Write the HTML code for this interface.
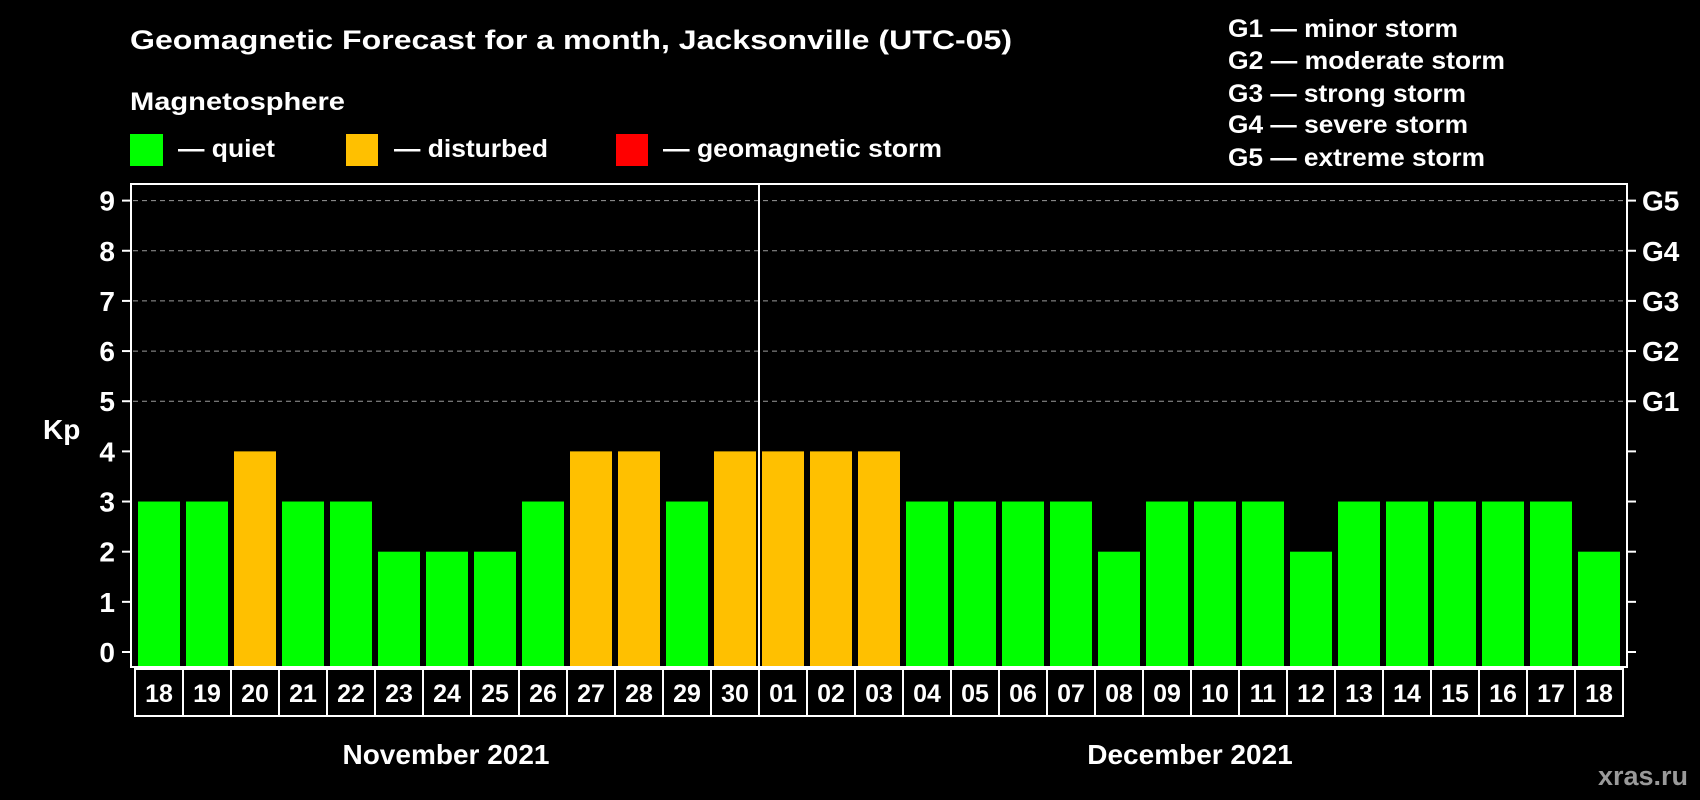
<!DOCTYPE html>
<html><head><meta charset="utf-8"><style>
html,body{margin:0;padding:0;background:#000;width:1700px;height:800px;overflow:hidden}
svg{display:block;font-family:"Liberation Sans",Arial,sans-serif;font-weight:bold}
</style></head><body>
<svg id="chart" width="1700" height="800" viewBox="0 0 1700 800" xmlns="http://www.w3.org/2000/svg">
<rect width="1700" height="800" fill="#000"/>
<text x="130" y="49" fill="#fff" font-size="27" textLength="882" lengthAdjust="spacingAndGlyphs">Geomagnetic Forecast for a month, Jacksonville (UTC-05)</text>
<text x="130" y="110" fill="#fff" font-size="25" textLength="215" lengthAdjust="spacingAndGlyphs">Magnetosphere</text>
<g><rect x="130" y="134" width="33" height="32" fill="#00ff00"/><text x="178" y="157" fill="#fff" font-size="25" textLength="97" lengthAdjust="spacingAndGlyphs">— quiet</text></g>
<g><rect x="346" y="134" width="32" height="32" fill="#ffc000"/><text x="394" y="157" fill="#fff" font-size="25" textLength="154" lengthAdjust="spacingAndGlyphs">— disturbed</text></g>
<g><rect x="616" y="134" width="32" height="32" fill="#ff0000"/><text x="663" y="157" fill="#fff" font-size="25" textLength="279" lengthAdjust="spacingAndGlyphs">— geomagnetic storm</text></g>
<g fill="#fff" font-size="25" lengthAdjust="spacingAndGlyphs">
<text x="1228" y="37" textLength="230" lengthAdjust="spacingAndGlyphs">G1 — minor storm</text>
<text x="1228" y="69" textLength="277" lengthAdjust="spacingAndGlyphs">G2 — moderate storm</text>
<text x="1228" y="102" textLength="238" lengthAdjust="spacingAndGlyphs">G3 — strong storm</text>
<text x="1228" y="133" textLength="240" lengthAdjust="spacingAndGlyphs">G4 — severe storm</text>
<text x="1228" y="166" textLength="257" lengthAdjust="spacingAndGlyphs">G5 — extreme storm</text>
</g>
<g id="grid"></g>
<g id="bars"></g>
<rect x="131" y="184" width="1496" height="483" fill="none" stroke="#fff" stroke-width="2"/>
<line x1="759" y1="184" x2="759" y2="667" stroke="#fff" stroke-width="2"/>
<g id="axes"></g>
<text x="43" y="439" fill="#fff" font-size="28">Kp</text>
<text x="446" y="764" fill="#fff" font-size="28" text-anchor="middle">November 2021</text>
<text x="1190" y="764" fill="#fff" font-size="28" text-anchor="middle">December 2021</text>
<text x="1688" y="785" fill="#9a9a9a" font-size="27" text-anchor="end">xras.ru</text>
</svg>
<script>
const days = ["18","19","20","21","22","23","24","25","26","27","28","29","30","01","02","03","04","05","06","07","08","09","10","11","12","13","14","15","16","17","18"];
const kpValues = [3,3,4,3,3,2,2,2,3,4,4,3,4,4,4,4,3,3,3,3,2,3,3,3,2,3,3,3,3,3,2];
const yTicks = [0,1,2,3,4,5,6,7,8,9];
const gLabels = ["","","","","","G1","G2","G3","G4","G5"];

const NS = "http://www.w3.org/2000/svg";
const x0 = 138, pitch = 48, barW = 42;
const yBase = 652, unit = (652 - 200.6) / 9, plotBottom = 667;
function xPos(i){ return x0 + i * pitch; }
function yPos(v){ return yBase - v * unit; }
function color(v){ return v >= 5 ? "#ff0000" : (v >= 4 ? "#ffc000" : "#00ff00"); }
function mk(tag, attrs){ const e = document.createElementNS(NS, tag); for (const k in attrs) e.setAttribute(k, attrs[k]); return e; }

const grid = document.getElementById("grid"), bars = document.getElementById("bars"), axes = document.getElementById("axes");
yTicks.forEach((t, i) => {
  const y = yPos(t);
  if (t >= 5) {
    const gl = mk("line", {x1:133, x2:1625, y1:y, y2:y, stroke:"#9a9a9a", "stroke-width":1, "stroke-dasharray":"5,4"});
    
    
    grid.appendChild(gl);
  }
  const tl = mk("line", {x1:122, x2:131, y1:y, y2:y, stroke:"#fff", "stroke-width":2});
  
  
  axes.appendChild(tl);
  const tr = mk("line", {x1:1627, x2:1636, y1:y, y2:y, stroke:"#fff", "stroke-width":2});
  
  
  axes.appendChild(tr);
  const lab = mk("text", {x:115, y:y + 10, fill:"#fff", "font-size":28, "text-anchor":"end"});
  lab.textContent = t;
  
  
  axes.appendChild(lab);
  if (gLabels[i]) {
    const g = mk("text", {x:1642, y:y + 10, fill:"#fff", "font-size":28});
    g.textContent = gLabels[i];
    
    
    axes.appendChild(g);
  }
});
kpValues.forEach((v, i) => {
  const r = mk("rect", {x:xPos(i), y:yPos(v), width:barW, height:plotBottom - yPos(v), fill:color(v)});
  
  
  bars.appendChild(r);
});
days.forEach((d, i) => {
  const bx = xPos(i) - 3;
  const box = mk("rect", {x:bx, y:669, width:pitch, height:47, fill:"#000", stroke:"#fff", "stroke-width":2});
  
  
  axes.appendChild(box);
  const t = mk("text", {x:bx + pitch / 2, y:702, fill:"#fff", "font-size":25, "text-anchor":"middle"});
  t.textContent = d;
  
  
  axes.appendChild(t);
});
</script>
</body></html>
